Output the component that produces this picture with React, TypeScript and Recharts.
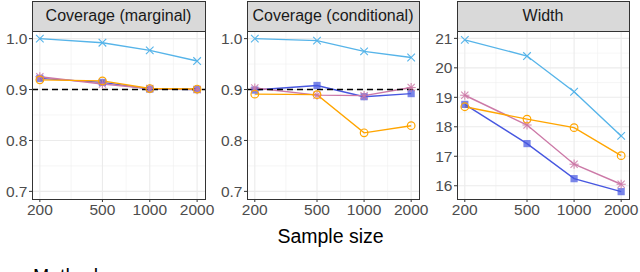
import React from "react";
import { LineChart, Line, XAxis, YAxis, ReferenceLine } from "recharts";

const sampleSizes = [200, 500, 1000, 2000];
const minorSizes = [316.23, 707.11, 1414.21];

// Coverage (marginal)
const margLightBlue = [1.0, 0.992, 0.977, 0.956];
const margBlue = [0.922, 0.914, 0.901, 0.9];
const margPink = [0.925, 0.911, 0.902, 0.9];
const margOrange = [0.919, 0.917, 0.902, 0.901];

// Coverage (conditional)
const condLightBlue = [1.0, 0.996, 0.975, 0.963];
const condBlue = [0.899, 0.908, 0.886, 0.892];
const condPink = [0.903, 0.889, 0.888, 0.904];
const condOrange = [0.891, 0.89, 0.815, 0.829];

// Width
const widthLightBlue = [20.95, 20.4, 19.19, 17.69];
const widthBlue = [18.76, 17.43, 16.24, 15.8];
const widthPink = [19.07, 18.06, 16.73, 16.05];
const widthOrange = [18.68, 18.26, 17.97, 17.02];

const coverageTicks = [0.7, 0.8, 0.9, 1.0];
const coverageMinor = [0.75, 0.85, 0.95];
const widthTicks = [16, 17, 18, 19, 20, 21];
const widthMinor = [16.5, 17.5, 18.5, 19.5, 20.5];

const C_LB = "#56B4E9";
const C_BL = "#4757E0";
const C_PK = "#CC79A7";
const C_OR = "#FFA500";

const FONT = '"Liberation Sans", Arial, Helvetica, sans-serif';

function build(lb: number[], bl: number[], pk: number[], or: number[]) {
  return sampleSizes.map((n, i) => ({ n, lb: lb[i], bl: bl[i], pk: pk[i], or: or[i] }));
}

const XDot = (p: any) => {
  const { cx, cy, index } = p;
  if (cx == null || cy == null) return <g key={"x" + index} />;
  const s = 3.8;
  return (
    <g key={"x" + index} stroke={C_LB} strokeWidth={1.1}>
      <line x1={cx - s} y1={cy - s} x2={cx + s} y2={cy + s} />
      <line x1={cx - s} y1={cy + s} x2={cx + s} y2={cy - s} />
    </g>
  );
};
const SqDot = (p: any) => {
  const { cx, cy, index } = p;
  if (cx == null || cy == null) return <g key={"s" + index} />;
  const s = 3.6;
  return <rect key={"s" + index} x={cx - s} y={cy - s} width={2 * s} height={2 * s} fill={C_BL} fillOpacity={0.72} />;
};
const StarDot = (p: any) => {
  const { cx, cy, index } = p;
  if (cx == null || cy == null) return <g key={"a" + index} />;
  const s = 3.6;
  const r = 4.6;
  return (
    <g key={"a" + index} stroke={C_PK} strokeWidth={1.1} strokeOpacity={0.85}>
      <line x1={cx - s} y1={cy - s} x2={cx + s} y2={cy + s} />
      <line x1={cx - s} y1={cy + s} x2={cx + s} y2={cy - s} />
      <line x1={cx - r} y1={cy} x2={cx + r} y2={cy} />
      <line x1={cx} y1={cy - r} x2={cx} y2={cy + r} />
    </g>
  );
};
const CircDot = (p: any) => {
  const { cx, cy, index } = p;
  if (cx == null || cy == null) return <g key={"c" + index} />;
  return <circle key={"c" + index} cx={cx} cy={cy} r={3.8} fill="none" stroke={C_OR} strokeWidth={1.2} />;
};

type Panel = {
  title: string;
  data: any[];
  yDomain: [number, number];
  yTicks: number[];
  yMinor: number[];
  fmt: (v: number) => string;
  left: number;
  plotW: number;
  yAxisW: number;
  dashed: boolean;
};

const PLOT_TOP = 31;
const PLOT_BOTTOM = 199;
const H = 272;
const XAXIS_H = 30;
const RIGHT_PAD = 14;
const xDomain: [number, number] = [178.3, 2244.7];

const panels: Panel[] = [
  {
    title: "Coverage (marginal)",
    data: build(margLightBlue, margBlue, margPink, margOrange),
    yDomain: [0.685, 1.015],
    yTicks: coverageTicks,
    yMinor: coverageMinor,
    fmt: (v) => v.toFixed(1),
    left: 0,
    plotW: 173,
    yAxisW: 32,
    dashed: true,
  },
  {
    title: "Coverage (conditional)",
    data: build(condLightBlue, condBlue, condPink, condOrange),
    yDomain: [0.685, 1.015],
    yTicks: coverageTicks,
    yMinor: coverageMinor,
    fmt: (v) => v.toFixed(1),
    left: 215,
    plotW: 172,
    yAxisW: 32,
    dashed: true,
  },
  {
    title: "Width",
    data: build(widthLightBlue, widthBlue, widthPink, widthOrange),
    yDomain: [15.55, 21.25],
    yTicks: widthTicks,
    yMinor: widthMinor,
    fmt: (v) => String(v),
    left: 424,
    plotW: 172,
    yAxisW: 33,
    dashed: false,
  },
];

function PanelChart({ p }: { p: Panel }) {
  const plotLeft = p.left + p.yAxisW;
  const plotRight = plotLeft + p.plotW;
  const chartW = p.yAxisW + p.plotW + RIGHT_PAD;
  return (
    <>
      <div style={{ position: "absolute", left: p.left, top: 0 }}>
        <LineChart
          width={chartW}
          height={H}
          data={p.data}
          margin={{ top: PLOT_TOP, right: RIGHT_PAD, bottom: H - PLOT_BOTTOM - XAXIS_H, left: 0 }}
        >
          <XAxis
            dataKey="n"
            type="number"
            scale="log"
            domain={xDomain}
            allowDataOverflow
            ticks={sampleSizes}
            interval={0}
            height={XAXIS_H}
            axisLine={false}
            tickLine={{ stroke: "#333333", strokeWidth: 1 }}
            tickSize={3}
            tickMargin={2}
            tick={{ fill: "#4D4D4D", fontSize: 15.5, fontFamily: FONT }}
          />
          <YAxis
            type="number"
            domain={p.yDomain}
            allowDataOverflow
            ticks={p.yTicks}
            interval={0}
            width={p.yAxisW}
            axisLine={false}
            tickLine={{ stroke: "#333333", strokeWidth: 1 }}
            tickSize={3}
            tickMargin={1.5}
            tickFormatter={p.fmt}
            tick={{ fill: "#4D4D4D", fontSize: 15.5, fontFamily: FONT }}
          />
          {p.yMinor.map((v) => (
            <ReferenceLine key={"ym" + v} y={v} stroke="#F0F0F0" strokeWidth={0.6} />
          ))}
          {minorSizes.map((v) => (
            <ReferenceLine key={"xm" + v} x={v} stroke="#F0F0F0" strokeWidth={0.6} />
          ))}
          {p.yTicks.map((v) => (
            <ReferenceLine key={"yM" + v} y={v} stroke="#EBEBEB" strokeWidth={1.1} />
          ))}
          {sampleSizes.map((v) => (
            <ReferenceLine key={"xM" + v} x={v} stroke="#EBEBEB" strokeWidth={1.1} />
          ))}
          <Line dataKey="lb" stroke={C_LB} strokeWidth={1.4} dot={XDot} activeDot={false} isAnimationActive={false} />
          <Line dataKey="bl" stroke={C_BL} strokeWidth={1.4} dot={SqDot} activeDot={false} isAnimationActive={false} />
          <Line dataKey="pk" stroke={C_PK} strokeWidth={1.4} dot={StarDot} activeDot={false} isAnimationActive={false} />
          <Line dataKey="or" stroke={C_OR} strokeWidth={1.4} dot={CircDot} activeDot={false} isAnimationActive={false} />
          {p.dashed && (
            <ReferenceLine y={0.9} stroke="#000000" strokeWidth={1.5} strokeDasharray="6 4" />
          )}
        </LineChart>
      </div>
      {/* panel border */}
      <div
        style={{
          position: "absolute",
          left: plotLeft - 0.5,
          top: PLOT_TOP - 0.5,
          width: plotRight - plotLeft + 1,
          height: PLOT_BOTTOM - PLOT_TOP + 1,
          border: "1px solid #333333",
          boxSizing: "border-box",
          pointerEvents: "none",
        }}
      />
      {/* strip */}
      <div
        style={{
          position: "absolute",
          left: plotLeft - 0.5,
          top: 0.5,
          width: plotRight - plotLeft + 1,
          height: PLOT_TOP,
          border: "1px solid #333333",
          boxSizing: "border-box",
          background: "#D9D9D9",
          color: "#1A1A1A",
          fontFamily: FONT,
          fontSize: 16,
          display: "flex",
          alignItems: "center",
          justifyContent: "center",
          whiteSpace: "nowrap",
        }}
      >
        {p.title}
      </div>
    </>
  );
}

export default function App() {
  return (
    <div
      style={{
        position: "absolute",
        left: 0,
        top: 0,
        width: 640,
        height: 272,
        overflow: "hidden",
        background: "#FFFFFF",
        fontFamily: FONT,
      }}
    >
      {panels.map((p) => (
        <PanelChart key={p.title} p={p} />
      ))}
      <div
        style={{
          position: "absolute",
          left: 32,
          width: 597,
          top: 225,
          textAlign: "center",
          fontSize: 19.5,
          color: "#000000",
          fontFamily: FONT,
          lineHeight: "normal",
        }}
      >
        Sample size
      </div>
      <div
        style={{
          position: "absolute",
          left: 33,
          top: 265,
          fontSize: 19.5,
          color: "#000000",
          fontFamily: FONT,
          lineHeight: "normal",
          whiteSpace: "nowrap",
        }}
      >
        Method
      </div>
    </div>
  );
}
